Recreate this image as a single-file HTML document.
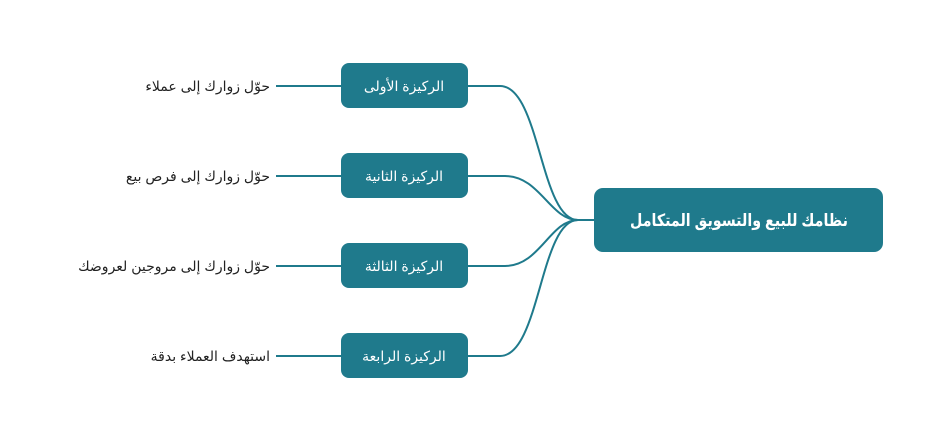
<!DOCTYPE html>
<html><head><meta charset="utf-8"><style>
html,body{margin:0;padding:0;background:#fff;width:946px;height:442px;overflow:hidden;}
svg text{font-family:"Liberation Sans","DejaVu Sans",sans-serif;}
</style></head><body>
<svg width="946" height="442" viewBox="0 0 946 442" xmlns="http://www.w3.org/2000/svg">
<g fill="none" stroke="#1f7a8c" stroke-width="2">
<path d="M578,220 C540,220 540,86 500,86 L468,86"/>
<path d="M578,220 C550,220 540,176 505,176 L468,176"/>
<path d="M578,220 C550,220 540,266 505,266 L468,266"/>
<path d="M578,220 C540,220 540,356 500,356 L468,356"/>
<path d="M578,220 L594,220"/>
<path d="M276,86 H341 M276,176 H341 M276,266 H341 M276,356 H341"/>
</g>
<g fill="#1f7a8c">
<rect x="594" y="188" width="289" height="64" rx="9"/>
<rect x="341" y="63" width="127" height="45" rx="8"/>
<rect x="341" y="153" width="127" height="45" rx="8"/>
<rect x="341" y="243" width="127" height="45" rx="8"/>
<rect x="341" y="333" width="127" height="45" rx="8"/>
</g>
<g fill="#fff" text-anchor="middle" direction="rtl">
<text x="739" y="226" font-size="17" font-weight="bold" textLength="218" lengthAdjust="spacingAndGlyphs">نظامك للبيع والتسويق المتكامل</text>
<text x="404" y="91" font-size="14">الركيزة الأولى</text>
<text x="404" y="181" font-size="14">الركيزة الثانية</text>
<text x="404" y="271" font-size="14">الركيزة الثالثة</text>
<text x="404" y="361" font-size="14">الركيزة الرابعة</text>
</g>
<g fill="#222" font-size="14" text-anchor="start" direction="rtl">
<text x="270" y="91">حوّل زوارك إلى عملاء</text>
<text x="270" y="181">حوّل زوارك إلى فرص بيع</text>
<text x="270" y="271">حوّل زوارك إلى مروجين لعروضك</text>
<text x="270" y="361">استهدف العملاء بدقة</text>
</g>
</svg>
</body></html>
